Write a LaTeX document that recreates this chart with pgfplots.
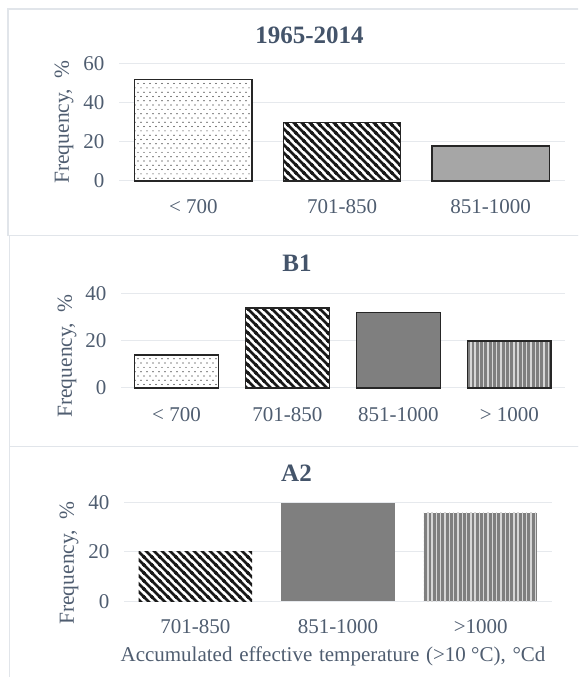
\documentclass[border=0pt]{standalone}
\usepackage{fontspec}
\setmainfont{Liberation Serif}
\usepackage{pgfplots}
\pgfplotsset{compat=1.18}
\usetikzlibrary{patterns}

\definecolor{titlec}{HTML}{44546A}
\definecolor{tickc}{HTML}{4F5D70}
\definecolor{gridc}{HTML}{E6E9ED}
\definecolor{framec}{HTML}{E1E5EA}
\definecolor{bordc}{HTML}{262626}
\definecolor{lgray}{HTML}{A6A6A6}
\definecolor{dgray}{HTML}{7F7F7F}
\definecolor{stripec}{HTML}{D6D6D6}

\pgfdeclarepatternformonly{mydots}{\pgfqpoint{-1pt}{-1pt}}{\pgfqpoint{7pt}{9.6pt}}{\pgfqpoint{6pt}{8.6pt}}{%
  \pgfpathcircle{\pgfqpoint{0pt}{0pt}}{0.6pt}%
  \pgfpathcircle{\pgfqpoint{3pt}{4.3pt}}{0.6pt}%
  \pgfusepath{fill}}
\pgfdeclarepatternformonly{mydiag}{\pgfqpoint{-2pt}{-2pt}}{\pgfqpoint{10pt}{10pt}}{\pgfqpoint{8pt}{8pt}}{%
  \pgfsetlinewidth{2.6pt}%
  \pgfpathmoveto{\pgfqpoint{-1pt}{9pt}}\pgfpathlineto{\pgfqpoint{9pt}{-1pt}}%
  \pgfpathmoveto{\pgfqpoint{-1pt}{1pt}}\pgfpathlineto{\pgfqpoint{1pt}{-1pt}}%
  \pgfpathmoveto{\pgfqpoint{7pt}{9pt}}\pgfpathlineto{\pgfqpoint{9pt}{7pt}}%
  \pgfusepath{stroke}}
\pgfdeclarepatternformonly{myvert}{\pgfqpoint{0pt}{-1pt}}{\pgfqpoint{4.3pt}{5pt}}{\pgfqpoint{4.3pt}{4pt}}{%
  \pgfsetlinewidth{1.4pt}%
  \pgfpathmoveto{\pgfqpoint{2.15pt}{-1pt}}\pgfpathlineto{\pgfqpoint{2.15pt}{5pt}}%
  \pgfusepath{stroke}}

\pgfplotsset{
  mybase/.style={
    scale only axis, anchor=south west, ybar, bar shift=0pt,
    axis line style={draw=none}, major tick length=0pt,
    ymajorgrids, grid style={draw=gridc, line width=1pt},
    tick label style={font=\fontsize{21}{25}\selectfont, text=tickc},
    /pgf/number format/assume math mode=true,
    xticklabel style={anchor=base, yshift=-32.5pt},
    yticklabel style={xshift=-11pt},
    clip=false, ymin=0,
  },
  b/.style={draw=bordc, line width=1.5pt},
  dotbar/.style={preaction={fill=white}, pattern=mydots, pattern color=black},
  diagbar/.style={preaction={fill=white}, pattern=mydiag, pattern color=black!90},
  vertbar/.style={preaction={fill=dgray}, pattern=myvert, pattern color=stripec},
}

\begin{document}
\begin{tikzpicture}[x=1pt,y=1pt]
\useasboundingbox (0,0) rectangle (578,677);
\begin{scope}
\clip (0,0) rectangle (578,677);
\draw[framec, line width=1.3pt] (8,668) rectangle (600,441.5);
\draw[framec, line width=1.3pt] (9.5,441.5) rectangle (600,230.5);
\draw[framec, line width=1.3pt] (9.5,230.5) rectangle (600,-20);
\end{scope}

% Panel 1
\begin{axis}[mybase, at={(119pt,496pt)}, width=446pt, height=117.3pt,
  ymax=60, ytick={0,20,40,60}, xmin=-0.5, xmax=2.5, bar width=0.79,
  xtick={0,1,2}, xticklabels={{< 700},{701-850},{851-1000}}]
\addplot[b, dotbar] coordinates {(0,52)};
\addplot[b, diagbar] coordinates {(1,30)};
\addplot[b, fill=lgray] coordinates {(2,18)};
\end{axis}
\node[font=\fontsize{25}{29}\selectfont\bfseries, text=titlec, anchor=base] at (309.5,633.5) {1965-2014};
\node[rotate=90, font=\fontsize{21.5}{25}\selectfont, text=tickc] at (64,555) {Frequency,\ \ \%};

% Panel 2
\begin{axis}[mybase, at={(121pt,289pt)}, width=443.8pt, height=94.3pt,
  ymax=40, ytick={0,20,40}, xmin=-0.5, xmax=3.5, bar width=0.755,
  xticklabel style={yshift=-1.5pt},
  xtick={0,1,2,3}, xticklabels={{< 700},{701-850},{851-1000},{> 1000}}]
\addplot[b, dotbar] coordinates {(0,14)};
\addplot[b, diagbar] coordinates {(1,34)};
\addplot[b, fill=dgray] coordinates {(2,32)};
\addplot[b, vertbar] coordinates {(3,20)};
\end{axis}
\node[font=\fontsize{25}{29}\selectfont\bfseries, text=titlec, anchor=base] at (297,405.5) {B1};
\node[rotate=90, font=\fontsize{21.5}{25}\selectfont, text=tickc] at (67,321) {Frequency,\ \ \%};

% Panel 3
\begin{axis}[mybase, at={(124pt,75.7pt)}, width=428pt, height=98.6pt,
  ymax=40, ytick={0,20,40}, xmin=-0.5, xmax=2.5, bar width=0.795,
  xtick={0,1,2}, xticklabels={{701-850},{851-1000},{>1000}}]
\addplot[draw=none, diagbar] coordinates {(0,20)};
\addplot[draw=none, fill=dgray] coordinates {(1,40)};
\addplot[draw=none, vertbar] coordinates {(2,36)};
\end{axis}
\node[font=\fontsize{25}{29}\selectfont\bfseries, text=titlec, anchor=base] at (296.5,195.5) {A2};
\node[rotate=90, font=\fontsize{21.5}{25}\selectfont, text=tickc] at (69,114) {Frequency,\ \ \%};
\node[font=\fontsize{21}{25}\selectfont, text=tickc, anchor=base] at (333,16)
  {Accumulated\hspace{0.32em}effective\hspace{0.32em}temperature\hspace{0.32em}(>10 °C),\hspace{0.32em}°Cd};
\end{tikzpicture}
\end{document}
